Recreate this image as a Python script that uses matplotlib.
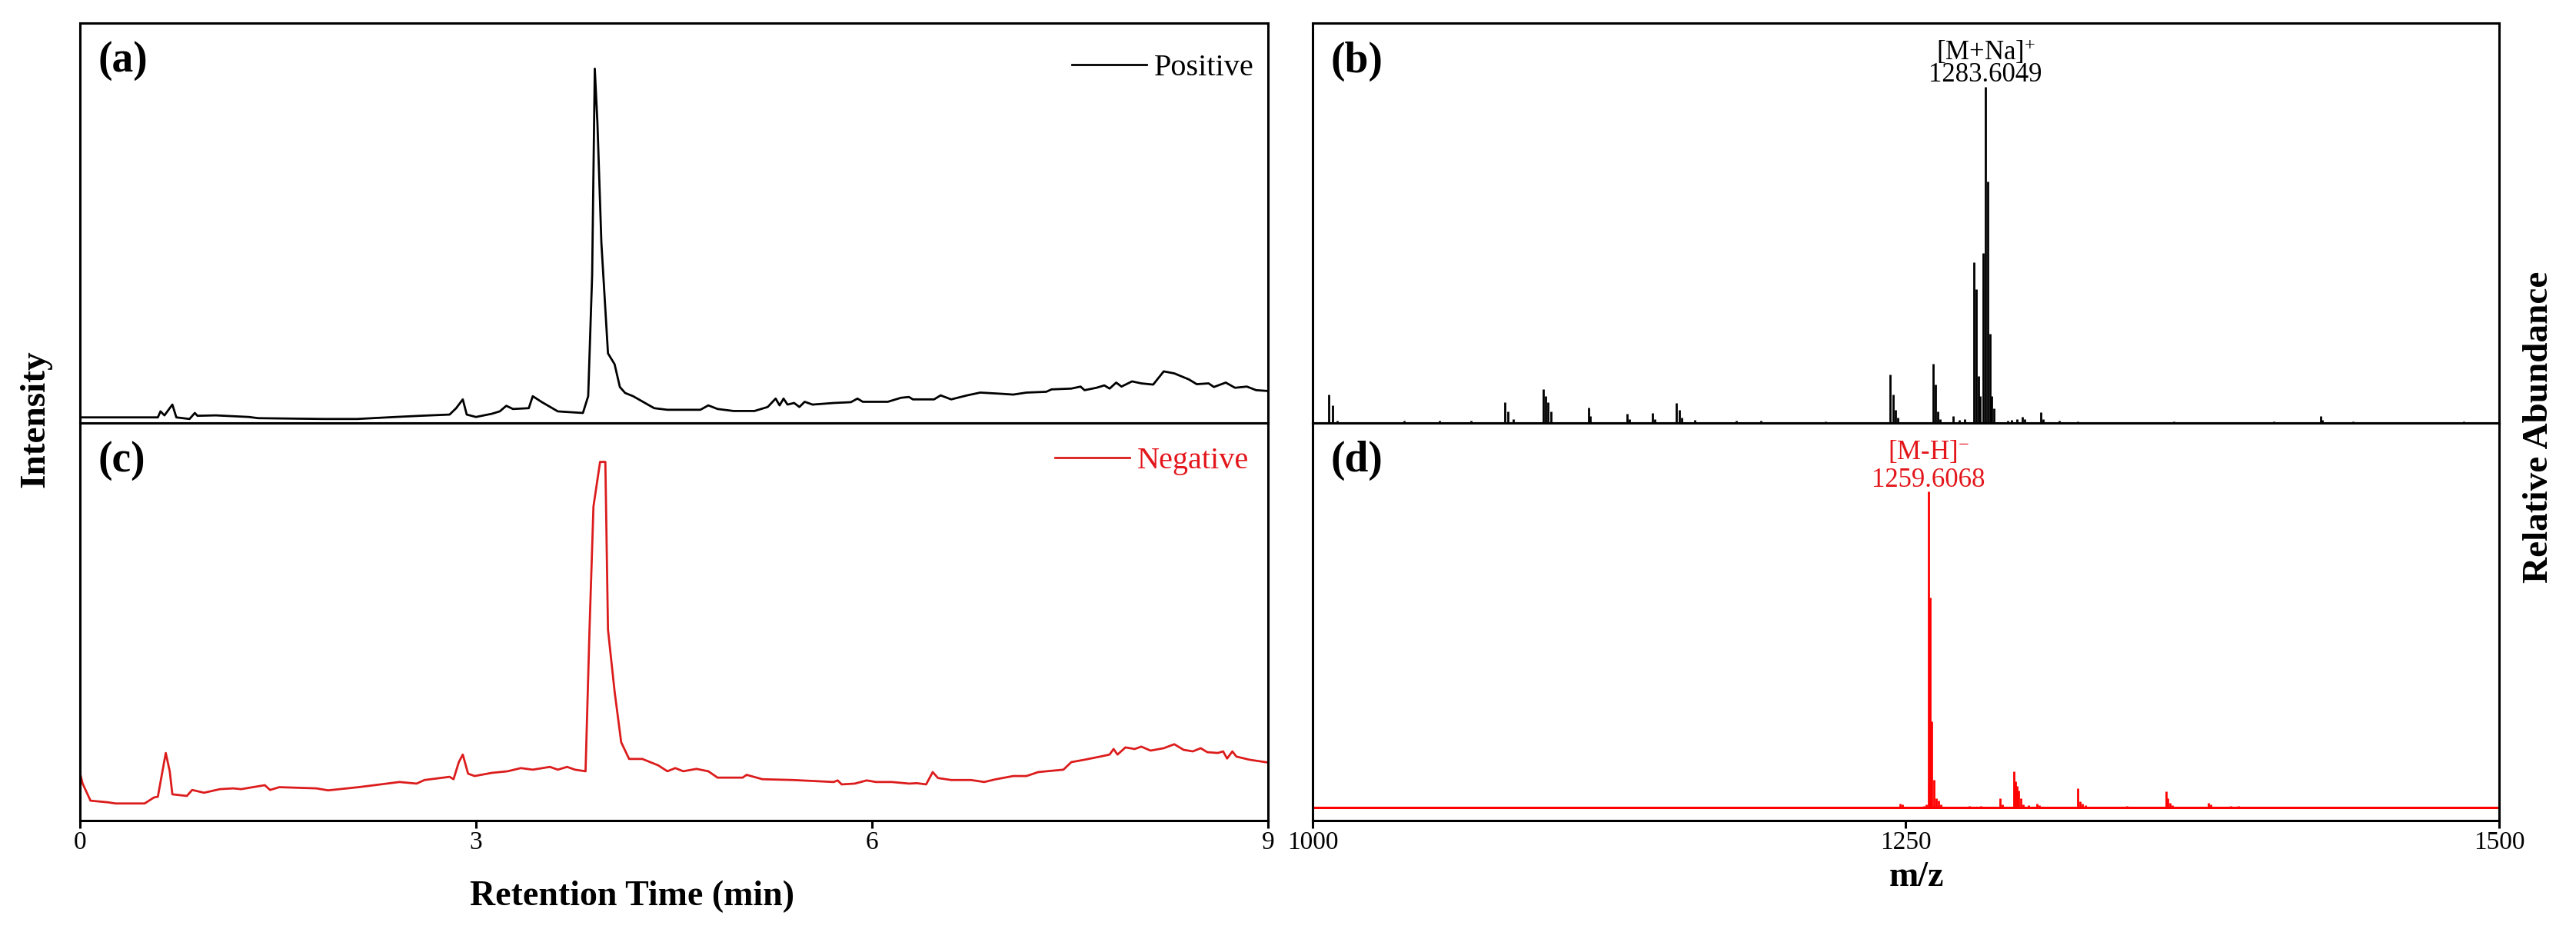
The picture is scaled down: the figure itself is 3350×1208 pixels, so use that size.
import numpy as np
import matplotlib
matplotlib.use('Agg')
import matplotlib.pyplot as plt

plt.rcParams['font.family'] = ['Liberation Serif', 'DejaVu Serif']
plt.rcParams['mathtext.fontset'] = 'custom'
plt.rcParams['mathtext.rm'] = 'Liberation Serif'
plt.rcParams['mathtext.it'] = 'Liberation Serif:italic'
plt.rcParams['mathtext.bf'] = 'Liberation Serif:bold'

# (a) chromatogram, positive mode (intensity in % of panel height)
pos_time = [0.0, 0.08, 0.59, 0.61, 0.64, 0.70, 0.73, 0.83, 0.87, 0.89, 1.03, 1.28, 1.35,
            1.85, 2.10, 2.39, 2.58, 2.80, 2.85, 2.90, 2.93, 3.00, 3.12, 3.18, 3.23, 3.28,
            3.40, 3.43, 3.50, 3.62, 3.81, 3.85, 3.88, 3.90, 3.92, 3.95, 4.00, 4.05, 4.09,
            4.13, 4.19, 4.35, 4.45, 4.70, 4.76, 4.83, 4.95, 5.11, 5.21, 5.27, 5.30, 5.33,
            5.36, 5.41, 5.45, 5.49, 5.55, 5.71, 5.84, 5.89, 5.93, 6.12, 6.22, 6.28, 6.31,
            6.47, 6.52, 6.60, 6.72, 6.82, 6.98, 7.07, 7.17, 7.32, 7.36, 7.51, 7.58, 7.61,
            7.70, 7.76, 7.80, 7.85, 7.89, 7.97, 8.04, 8.13, 8.21, 8.29, 8.40, 8.46, 8.55,
            8.59, 8.68, 8.75, 8.84, 8.91, 9.0]
pos_signal = [1.4, 1.4, 1.4, 2.9, 1.9, 4.6, 1.4, 1.0, 2.5, 1.8, 1.9, 1.5, 1.2,
              1.0, 1.0, 1.5, 1.8, 2.1, 3.7, 5.9, 2.1, 1.5, 2.3, 2.9, 4.3, 3.5,
              3.7, 6.7, 5.2, 2.9, 2.5, 6.7, 37.0, 88.6, 75.0, 45.0, 17.4, 14.7, 9.0,
              7.5, 6.7, 3.7, 3.3, 3.3, 4.4, 3.5, 3.0, 3.0, 4.0, 6.1, 4.4, 6.1,
              4.6, 5.0, 4.0, 5.3, 4.6, 5.0, 5.2, 6.1, 5.3, 5.3, 6.3, 6.5, 5.9,
              5.9, 6.9, 5.9, 6.9, 7.6, 7.3, 7.1, 7.6, 7.8, 8.4, 8.6, 9.1, 8.2,
              8.8, 9.4, 8.6, 10.1, 9.1, 10.4, 9.9, 9.6, 12.9, 12.4, 10.9, 9.7, 9.9,
              9.0, 10.1, 8.8, 9.1, 8.2, 8.0]

# (c) chromatogram, negative mode
neg_time = [0.0, 0.02, 0.08, 0.21, 0.27, 0.49, 0.56, 0.59, 0.65, 0.68, 0.70, 0.81, 0.85,
            0.94, 1.06, 1.16, 1.22, 1.40, 1.44, 1.51, 1.79, 1.88, 2.11, 2.23, 2.42, 2.55,
            2.61, 2.80, 2.83, 2.87, 2.90, 2.94, 2.99, 3.12, 3.24, 3.34, 3.43, 3.56, 3.62,
            3.69, 3.75, 3.83, 3.86, 3.89, 3.94, 3.98, 4.00, 4.05, 4.10, 4.16, 4.26, 4.38,
            4.45, 4.51, 4.57, 4.67, 4.76, 4.83, 5.02, 5.05, 5.17, 5.40, 5.71, 5.74, 5.77,
            5.87, 5.96, 6.03, 6.15, 6.28, 6.34, 6.41, 6.46, 6.50, 6.60, 6.75, 6.85, 6.94,
            7.07, 7.17, 7.26, 7.45, 7.51, 7.61, 7.73, 7.80, 7.83, 7.86, 7.92, 7.99, 8.04,
            8.11, 8.21, 8.29, 8.36, 8.43, 8.49, 8.54, 8.62, 8.66, 8.69, 8.73, 8.76, 8.86,
            9.0]
neg_signal = [12.0, 9.3, 5.0, 4.6, 4.3, 4.3, 5.8, 6.0, 17.0, 12.4, 6.6, 6.2, 7.7,
              7.0, 7.9, 8.1, 7.9, 8.9, 7.7, 8.4, 8.1, 7.6, 8.4, 8.9, 9.7, 9.3,
              10.2, 11.0, 10.4, 14.7, 16.6, 11.8, 11.2, 12.0, 12.4, 13.2, 12.8, 13.5, 12.8,
              13.5, 12.8, 12.4, 48.0, 79.0, 90.2, 90.2, 48.0, 32.5, 19.7, 15.5, 15.5, 13.9,
              12.4, 13.2, 12.4, 13.0, 12.4, 10.8, 10.8, 11.5, 10.4, 10.2, 9.7, 10.1, 9.1,
              9.3, 10.1, 9.7, 9.7, 9.3, 9.4, 9.1, 12.2, 10.7, 10.2, 10.2, 9.7, 10.4,
              11.2, 11.2, 12.2, 12.8, 14.7, 15.3, 16.1, 16.6, 18.0, 16.6, 18.4, 18.0, 18.6,
              17.6, 18.2, 19.2, 17.8, 17.4, 18.2, 17.2, 17.0, 17.4, 15.6, 17.4, 16.1, 15.3,
              14.6]

# (b) mass spectrum, positive mode
pos_mz = [1006.9, 1008.3, 1010.3, 1038.6, 1053.4, 1066.6, 1081.0, 1082.4, 1084.5, 1097.2,
          1098.3, 1099.3, 1100.3, 1116.2, 1116.9, 1132.4, 1133.4, 1143.1, 1144.1, 1153.4,
          1154.5, 1155.5, 1161.0, 1178.6, 1189.0, 1216.2, 1243.4, 1244.5, 1245.5, 1246.6,
          1261.4, 1262.4, 1263.4, 1264.5, 1270.0, 1272.4, 1274.8, 1278.6, 1279.7, 1280.7,
          1281.4, 1282.6, 1283.6, 1284.6, 1285.5, 1286.2, 1287.2, 1292.9, 1294.6, 1296.7,
          1299.0, 1300.0, 1306.9, 1307.9, 1314.5, 1322.4, 1362.8, 1405.2, 1424.8, 1425.5,
          1438.3, 1485.2]
pos_abund = [7.1, 4.4, 0.6, 0.5, 0.6, 0.5, 5.2, 2.9, 1.0, 8.5,
             6.7, 5.2, 2.9, 3.9, 1.8, 2.3, 1.0, 2.5, 1.0, 5.0,
             3.3, 1.4, 0.8, 0.6, 0.6, 0.3, 12.2, 7.1, 3.3, 1.4,
             14.9, 9.7, 2.9, 1.0, 1.8, 0.8, 0.9, 40.2, 33.4, 11.7,
             6.7, 42.5, 84.0, 60.4, 22.3, 6.7, 3.7, 0.6, 0.8, 1.0,
             1.5, 1.0, 2.7, 1.0, 0.5, 0.3, 0.4, 0.4, 1.8, 0.8,
             0.3, 0.3]

# (d) mass spectrum, negative mode
neg_mz = [1247.6, 1248.6, 1257.6, 1258.6, 1259.6, 1260.3, 1261.0, 1261.7, 1262.8, 1263.8,
          1264.8, 1276.6, 1281.7, 1289.7, 1290.7, 1295.5, 1296.2, 1296.9, 1297.6, 1298.3,
          1299.4, 1301.7, 1305.2, 1306.2, 1322.4, 1323.4, 1324.4, 1325.8, 1343.1, 1359.7,
          1360.3, 1361.4, 1362.4, 1377.6, 1378.6, 1386.9, 1390.3]
neg_abund = [4.3, 4.0, 3.7, 4.0, 82.8, 56.0, 25.0, 10.3, 5.7, 5.0,
             4.0, 3.7, 3.7, 5.7, 4.0, 12.4, 9.9, 8.8, 7.6, 5.7,
             4.0, 3.8, 4.3, 3.9, 8.1, 4.9, 4.3, 3.9, 3.6, 7.4,
             5.7, 4.5, 3.9, 4.5, 4.0, 3.6, 3.6]
neg_baseline = 3.3

pos_ion, pos_ion_mz = '[M+Na]$^{+}$', '1283.6049'
neg_ion, neg_ion_mz = '[M-H]$^{-}$', '1259.6068'

time_ticks = [0, 3, 6, 9]
mz_ticks = [1000, 1250, 1500]

red_line = '#dc1c1c'
red_text = '#e3161b'

fig = plt.figure(figsize=(33.5, 12.08), dpi=100)
W, H = 3350, 1208
def box(x0, y0, x1, y1):
    return [x0 / W, 1 - y1 / H, (x1 - x0) / W, (y1 - y0) / H]

ax_a = fig.add_axes(box(104, 30, 1649, 550))
ax_c = fig.add_axes(box(104, 550, 1649, 1067))
ax_b = fig.add_axes(box(1707, 30, 3250, 550))
ax_d = fig.add_axes(box(1707, 550, 3250, 1067))

for ax in (ax_a, ax_b, ax_c, ax_d):
    for s in ax.spines.values():
        s.set_linewidth(2.2)
    ax.set_yticks([])
    ax.set_ylim(0, 100)
    ax.tick_params(axis='x', direction='out', length=7, width=2.2, labelsize=24, pad=3)

for ax in (ax_a, ax_b):
    ax.tick_params(axis='x', bottom=False, labelbottom=False)

# chromatograms
ax_a.plot(pos_time, pos_signal, color='black', lw=2.0, label='Positive')
ax_c.plot(neg_time, neg_signal, color=red_line, lw=2.0, label='Negative')
for ax in (ax_a, ax_c):
    ax.set_xlim(0, 9)
    ax.set_xticks(time_ticks)

leg = ax_a.legend(loc='center right', bbox_to_anchor=(0.988, 0.888), frameon=False,
                  fontsize=29, handlelength=2.4, handletextpad=0.25,
                  borderpad=0, borderaxespad=0)
leg = ax_c.legend(loc='center right', bbox_to_anchor=(0.984, 0.905), frameon=False,
                  fontsize=29, handlelength=2.4, handletextpad=0.25,
                  borderpad=0, borderaxespad=0)
for t in leg.get_texts():
    t.set_color(red_text)

# spectra
ax_b.vlines(pos_mz, 0, pos_abund, color='black', lw=2.0)
ax_d.axhline(neg_baseline, color='#ff0000', lw=2.2)
ax_d.vlines(neg_mz, neg_baseline, neg_abund, color='#ff0000', lw=2.0)
for ax in (ax_b, ax_d):
    ax.set_xlim(1000, 1500)
    ax.set_xticks(mz_ticks)

i = int(np.argmax(pos_abund))
ax_b.annotate(pos_ion_mz, xy=(pos_mz[i], pos_abund[i]), xytext=(0, 5), textcoords='offset points',
              ha='center', va='baseline', fontsize=25)
ax_b.annotate(pos_ion, xy=(pos_mz[i], pos_abund[i]), xytext=(0, 25), textcoords='offset points',
              ha='center', va='baseline', fontsize=25)
j = int(np.argmax(neg_abund))
ax_d.annotate(neg_ion_mz, xy=(neg_mz[j], neg_abund[j]), xytext=(0, 4.5), textcoords='offset points',
              ha='center', va='baseline', fontsize=25, color=red_text)
ax_d.annotate(neg_ion, xy=(neg_mz[j], neg_abund[j]), xytext=(0, 30), textcoords='offset points',
              ha='center', va='baseline', fontsize=25, color=red_text)

# panel letters
for ax, lab in ((ax_a, '(a)'), (ax_b, '(b)'), (ax_c, '(c)'), (ax_d, '(d)')):
    ax.text(0.015, 0.905, lab, transform=ax.transAxes, ha='left', va='center',
            fontsize=40, fontweight='bold')

# axis titles
fig.text(822 / W, 1 - 1177 / H, 'Retention Time (min)', ha='center', va='baseline',
         fontsize=33, fontweight='bold')
fig.text(2492 / W, 1 - 1152 / H, 'm/z', ha='center', va='baseline',
         fontsize=33, fontweight='bold')
fig.text(46 / W, 1 - 545 / H, 'Intensity', rotation=90, ha='center', va='center',
         fontsize=34, fontweight='bold')
fig.text(3302 / W, 1 - 555 / H, 'Relative Abundance', rotation=90, ha='center', va='center',
         fontsize=34, fontweight='bold')

fig.savefig('out.png', dpi=100)
